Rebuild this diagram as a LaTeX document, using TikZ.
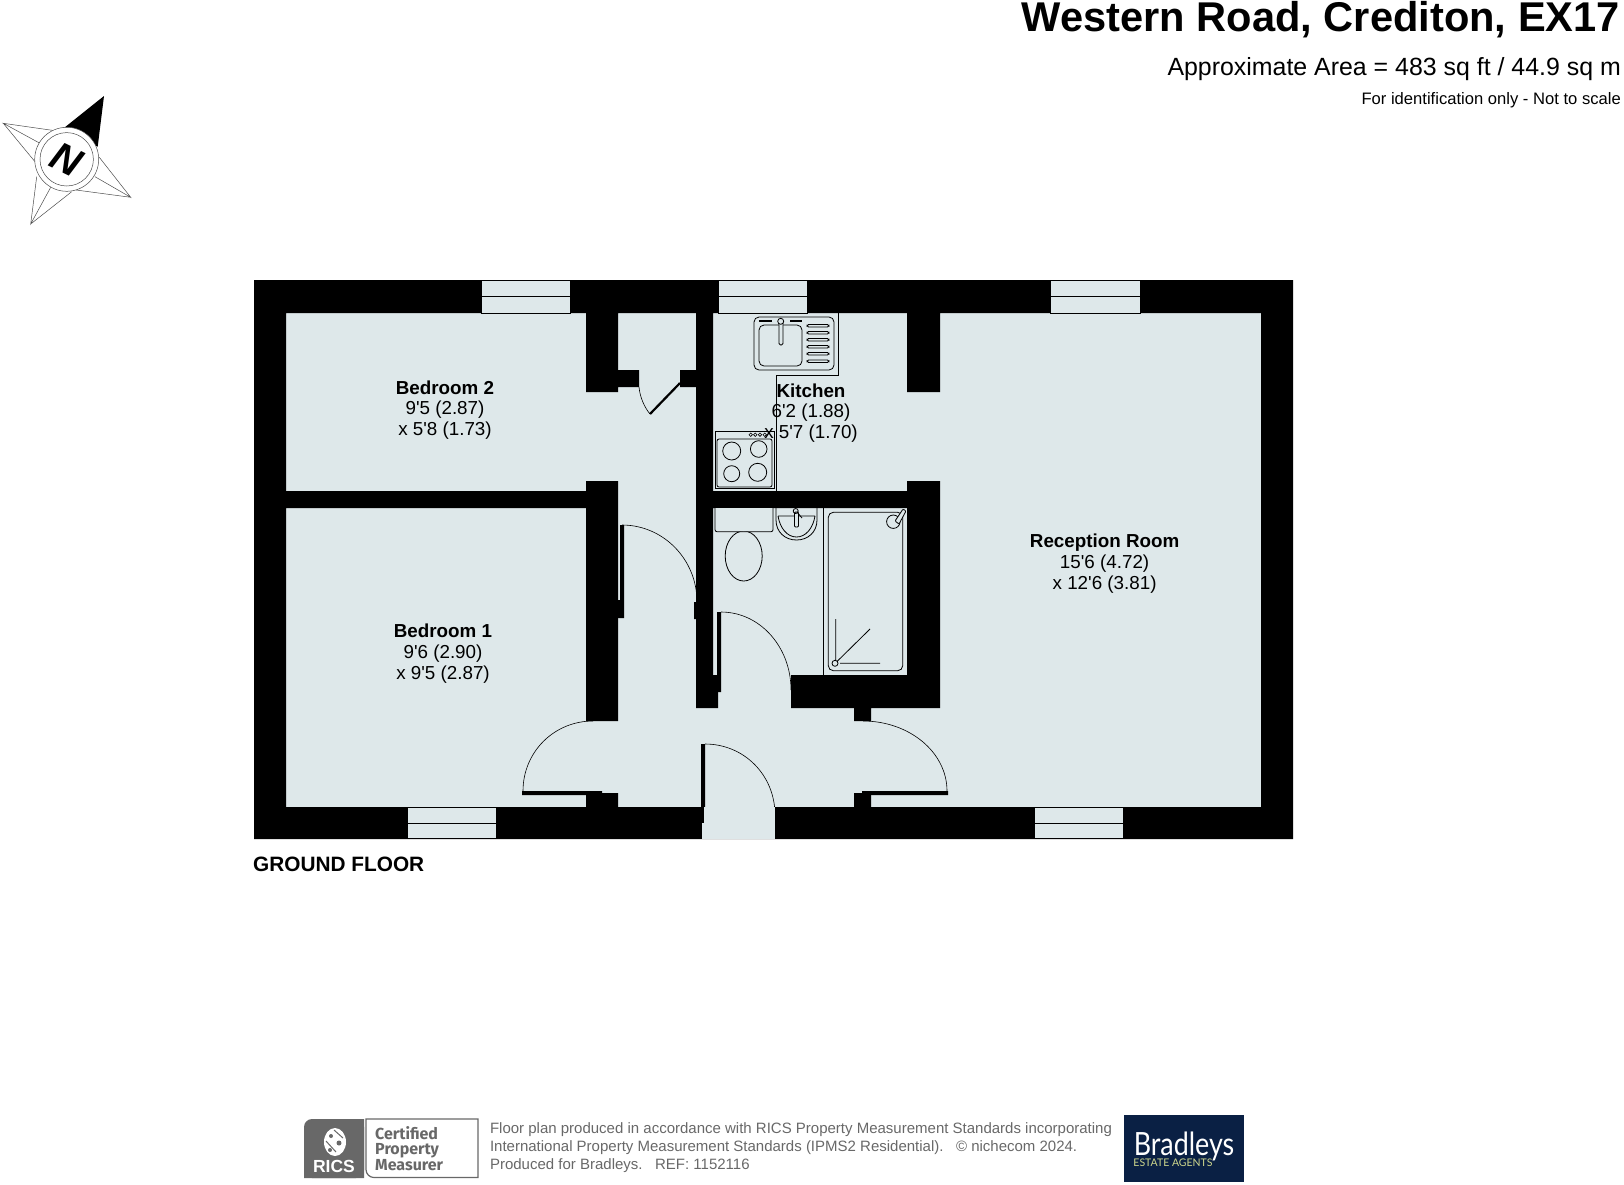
\documentclass[tikz,border=0pt]{standalone}
\usepackage{fontspec}
\setmainfont{Liberation Sans}
\newfontfamily\fira{Fira Sans}
\newfontfamily\lato{Lato}
\usepackage{tikz}
\usetikzlibrary{positioning}
\definecolor{flr}{RGB}{222,232,234}
\definecolor{gry}{RGB}{104,104,104}
\definecolor{nav}{RGB}{10,32,68}
\definecolor{lim}{RGB}{205,214,140}
\newcommand{\ft}{\textquotesingle}
\tikzset{
  wall/.style={fill=black},
  win/.style={fill=flr,draw=black,line width=0.7pt},
  fit/.style={draw=black,line width=0.8pt},
  swing/.style={draw=black,line width=0.6pt},
  star/.style={draw=black!70,line width=0.5pt},
  room/.style={align=center,font=\fontsize{18.8}{20.7}\selectfont},
  foot/.style={anchor=base west,text=gry,font=\fontsize{15}{18}\selectfont}
}
\begin{document}
\begin{tikzpicture}[x=1pt,y=-1pt]
\useasboundingbox (0,0) rectangle (1624,1184);
\fill[flr](254,280) rectangle (1293,839);
\fill[wall](254,280) rectangle (1293,313) (254,807) rectangle (1293,839)
 (254,280) rectangle (286,839) (1261,280) rectangle (1293,839)
 (286,491) rectangle (586,508) (586,313) rectangle (618,392) (586,481) rectangle (618,721)
 (618,370) rectangle (639,387) (680,370) rectangle (696,387)
 (696,313) rectangle (713,708) (696,675) rectangle (718,708)
 (713,491) rectangle (907,508) (907,313) rectangle (940,392) (907,481) rectangle (940,708)
 (791,675) rectangle (940,708) (854,708) rectangle (871,721)
 (586,793) rectangle (618,807) (586,791) rectangle (602,793) (854,793) rectangle (871,807);
% door leaves
\fill[wall](522,791) rectangle (586,795) (862,791) rectangle (948,795)
 (620,525) rectangle (624,618) (618,600) rectangle (624,618) (694,602) rectangle (696,619)
 (717,612) rectangle (721,692) (713,675) rectangle (721,692) (701,744) rectangle (705,823);
\draw[swing](622,525).. controls (663,525) and (697,559) ..(697,602);
\draw[swing](721,612).. controls (760,612) and (791,647) ..(791,690);
\draw[swing](705,744).. controls (744,744) and (775,775) ..(775,815);
\draw[swing](593,721).. controls (554,721) and (523,752) ..(523,791);
\draw[swing](863,721).. controls (909,721) and (947,752) ..(947,791);
\draw[swing](639,387).. controls (640,398) and (645,408) ..(650,414);
\draw[line width=2.2pt](680,383)--(650,414);
\fill[flr](702,807) rectangle (775,839);
\fill[wall](701,807) rectangle (704,823);
% windows
\draw[win](481,280.7) rectangle (570,313) (481,296)--(570,296);
\draw[win](718,280.7) rectangle (807,313) (718,296)--(807,296);
\draw[win](1050,280.7) rectangle (1140,313) (1050,296)--(1140,296);
\draw[win](407,807) rectangle (496,838.5) (407,823)--(496,823);
\draw[win](1034,807) rectangle (1123,838.5) (1034,823)--(1123,823);
% kitchen
\draw[fit](838,313)--(838,375)--(776,375)--(776,491);
\draw[fit,rounded corners=5pt](754,317) rectangle (834,370);
\draw[fit,rounded corners=5pt](759,325) rectangle (802,366);
\draw[fit,rounded corners=1.5pt](807,324.5) rectangle (829,327) (807,331.5) rectangle (829,334)
 (807,338.5) rectangle (829,341) (807,345.5) rectangle (829,348) (807,352.5) rectangle (829,355) (807,360) rectangle (829,362.5);
\draw[fit,rounded corners=1.5pt,fill=flr](779,322) rectangle (783,345);
\draw[fit,fill=flr](780.7,321.3) circle (3);
\draw[line width=1.1pt](759,321)--(772,321) (790,321)--(802,321);
\draw[fit](715,431) rectangle (774,488);
\draw[fit,rounded corners=2pt](717,439) rectangle (772,487);
\draw[fit](731.7,451) circle (9) (758.7,449) circle (8.3) (731.7,473.7) circle (8) (757.7,472.3) circle (9);
\draw[line width=0.6pt](750.7,434.7) circle (1.7) (755.3,434.7) circle (1.7) (760,434.7) circle (1.7) (764.7,434.7) circle (1.7);
% bathroom
\draw[fit](743.7,556) ellipse (18.5 and 25);
\draw[fit,fill=flr,rounded corners=2pt](715,500) rectangle (773,531.7);
\fill[wall](713,491) rectangle (907,508);
\draw[fit](776,508)--(776,520).. controls (776,532) and (785,540) ..(796.5,540).. controls (808,540) and (817,532) ..(817,520)--(817,508);
\draw[fit](778,516)--(815,516) (778,516).. controls (780,528) and (787,537) ..(796.5,537).. controls (806,537) and (813,528) ..(815,516);
\draw[fit,fill=flr,rounded corners=1pt](794.5,512) rectangle (798.5,527);
\draw[fit](795.7,511) circle (2.5) (797,512)--(802,518);
\draw[fit](823.3,508)--(823.3,675);
\draw[fit,rounded corners=5pt](828.3,512.3) rectangle (902.7,670.7);
\draw[fit,fill=flr](893.3,521.7) circle (6.7);
\draw[fit,fill=flr,rounded corners=1pt](895,521)--(903,509)--(906,511)--(899,524)--cycle;
\draw[fit](835,663.3) circle (3) (835.7,619)--(835.7,660) (837.5,661)--(870,629) (840,663.3)--(880,663.3);
% compass
\fill[black](62.7,129)--(104,96)--(97.7,146.7)--cycle;
\draw[star](55,130.7)--(3.3,123.3)--(40,143.3) (3.3,123.3)--(35,161.7);
\draw[star](99.3,157.3)--(130.7,197.3)--(95,176.7) (130.7,197.3)--(76,190);
\draw[star](36.7,176.7)--(30.7,224)--(50.7,187.3) (30.7,224)--(71.7,191.7);
\draw[star,fill=white](66.7,159.3) circle (32);
\draw[star](66.7,159.3) circle (26.7);
\node[rotate=-26,font=\fontsize{40}{40}\selectfont\bfseries\itshape](compassN)at(66.7,159.3){N};
% titles
\node[anchor=base east,inner sep=0,font=\fontsize{41.6}{44}\selectfont\bfseries](title)at(1620,31){Western Road, Crediton, EX17};
\node[anchor=base east,inner sep=0,font=\fontsize{24.9}{28}\selectfont](area)at(1621,75){Approximate Area = 483 sq ft / 44.9 sq m};
\node[anchor=base east,inner sep=0,font=\fontsize{16.6}{20}\selectfont](note)at(1621,104){For identification only - Not to scale};
\node[anchor=base west,inner sep=0,font=\fontsize{20.8}{24}\selectfont\bfseries](floor)at(253,871){GROUND FLOOR};
% rooms
\node[room](bedtwo)at(445,410){\textbf{Bedroom 2}\\9\ft5 (2.87)\\x 5\ft8 (1.73)};
\node[room](kitchen)at(811,413){\textbf{Kitchen}\\6\ft2 (1.88)\\x 5\ft7 (1.70)};
\node[room](reception)at(1104.6,563.5){\textbf{Reception Room}\\15\ft6 (4.72)\\x 12\ft6 (3.81)};
\node[room](bedone)at(443,653.7){\textbf{Bedroom 1}\\9\ft6 (2.90)\\x 9\ft5 (2.87)};
% footer
\fill[gry,rounded corners=8pt](304,1178) -- (304,1119) -- (364,1119) -- (364,1178) -- cycle;
\fill[gry](304,1130) rectangle (364,1178) (320,1119) rectangle (364,1178);
\draw[gry,line width=1.2pt](366,1119)--(478,1119)--(478,1177.5)[rounded corners=8pt]--(366,1177.5)[sharp corners]--cycle;
\fill[white](335,1142) ellipse (11 and 14);
\fill[gry](331,1136) circle (2) (339,1143) circle (2.5) (330,1150) circle (2);
\draw[gry,line width=1pt](326,1141)--(336,1152) (334,1130)--(343,1138);
\node[text=white,inner sep=0,font=\fontsize{17.5}{17.5}\selectfont\bfseries](rics)at(334,1166){RICS};
\node[text=gry,anchor=north west,inner sep=0,align=left,font=\fira\bfseries\fontsize{16}{15.5}\selectfont](cert)at(375,1126){Certified\\Property\\Measurer};
\node[foot](fone)at(486.5,1133){Floor plan produced in accordance with RICS Property Measurement Standards incorporating};
\node[foot](ftwo)at(486.5,1151){International Property Measurement Standards (IPMS2 Residential).\ \ \ \textcopyright\ nichecom 2024.};
\node[foot](fthree)at(486.5,1169){Produced for Bradleys.\ \ \ REF:\ 1152116};
\fill[nav](1124,1115) rectangle (1244,1182);
\node[text=white,inner sep=0,anchor=base,text depth=0pt,xscale=0.84,font=\lato\fontsize{32}{32}\selectfont](brad)at(1184,1155){Bradleys};
\node[text=lim,inner sep=0,font=\lato\fontsize{10.5}{11}\selectfont](estate)at(1173,1162.5){ESTATE AGENTS};
\end{tikzpicture}
\end{document}
